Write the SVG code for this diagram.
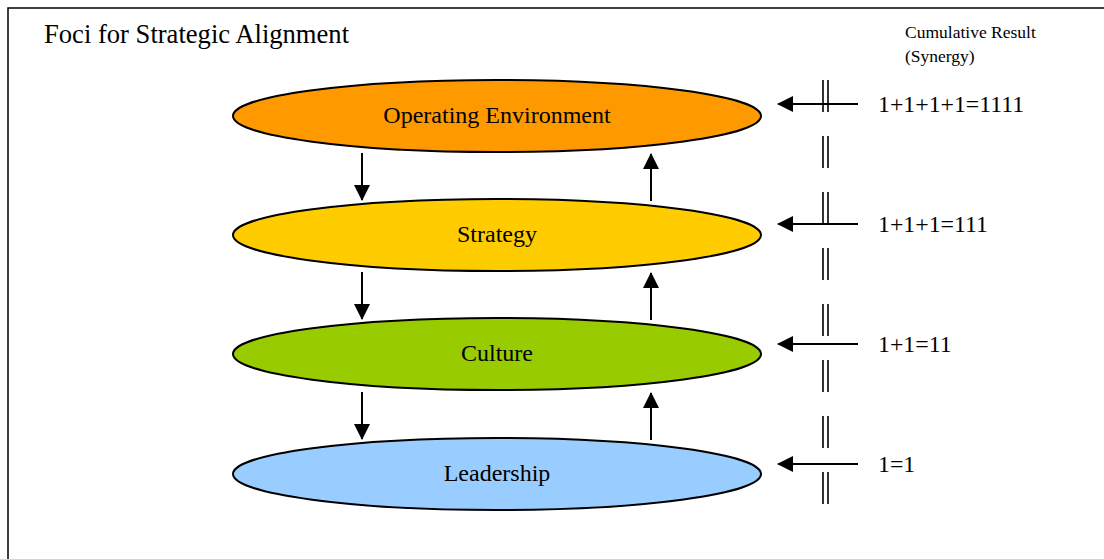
<svg xmlns="http://www.w3.org/2000/svg" width="1104" height="559" viewBox="0 0 1104 559">
<style>
text{font-family:"Liberation Serif","Times New Roman",serif;fill:#000}
.lbl{font-size:24px;text-anchor:middle}
.eq{font-size:23.8px}
.node ellipse{stroke:#000;stroke-width:2}
.c{stroke:#000;stroke-width:2;fill:none}
.bar{stroke:#000;stroke-width:1.6;stroke-dasharray:32 24}
</style>
<defs>
<marker id="ah" markerUnits="userSpaceOnUse" markerWidth="16" markerHeight="16" viewBox="0 0 16 16" refX="15" refY="8" orient="auto">
<path d="M0,0 L16,8 L0,16 Z" fill="#000"/>
</marker>
</defs>
<rect width="1104" height="559" fill="#fff"/>
<path d="M8,559 V8 H1104" fill="none" stroke="#000" stroke-width="1.5"/>
<text x="44" y="42.5" style="font-size:26.6px">Foci for Strategic Alignment</text>
<text x="905" y="38" style="font-size:17.5px">Cumulative Result</text>
<text x="905" y="62" style="font-size:17.5px">(Synergy)</text>
<g id="n-operating" class="node">
<ellipse cx="497" cy="116" rx="264" ry="36" fill="#FF9900"/>
<text class="lbl" x="497" y="123">Operating Environment</text>
</g>
<g id="n-strategy" class="node">
<ellipse cx="497" cy="235" rx="264" ry="36" fill="#FFCC00"/>
<text class="lbl" x="497" y="242">Strategy</text>
</g>
<g id="n-culture" class="node">
<ellipse cx="497" cy="354" rx="264" ry="36" fill="#99CC00"/>
<text class="lbl" x="497" y="361">Culture</text>
</g>
<g id="n-leadership" class="node">
<ellipse cx="497" cy="474" rx="264" ry="36" fill="#99CCFF"/>
<text class="lbl" x="497" y="481">Leadership</text>
</g>
<g id="connectors">
<line class="c" x1="362" y1="153" x2="362" y2="200" marker-end="url(#ah)"/>
<line class="c" x1="362" y1="272" x2="362" y2="319" marker-end="url(#ah)"/>
<line class="c" x1="362" y1="392" x2="362" y2="439" marker-end="url(#ah)"/>
<line class="c" x1="651" y1="201" x2="651" y2="154" marker-end="url(#ah)"/>
<line class="c" x1="651" y1="320" x2="651" y2="273" marker-end="url(#ah)"/>
<line class="c" x1="651" y1="440" x2="651" y2="393" marker-end="url(#ah)"/>
<line class="c" x1="858" y1="104" x2="778" y2="104" marker-end="url(#ah)"/>
<line class="c" x1="858" y1="224" x2="778" y2="224" marker-end="url(#ah)"/>
<line class="c" x1="858" y1="344" x2="778" y2="344" marker-end="url(#ah)"/>
<line class="c" x1="858" y1="464" x2="778" y2="464" marker-end="url(#ah)"/>
<line class="bar" x1="823" y1="80" x2="823" y2="504"/>
<line class="bar" x1="828" y1="80" x2="828" y2="504"/>
</g>
<text class="eq" x="878" y="112">1+1+1+1=1111</text>
<text class="eq" x="878" y="232">1+1+1=111</text>
<text class="eq" x="878" y="352">1+1=11</text>
<text class="eq" x="878" y="472">1=1</text>
</svg>
